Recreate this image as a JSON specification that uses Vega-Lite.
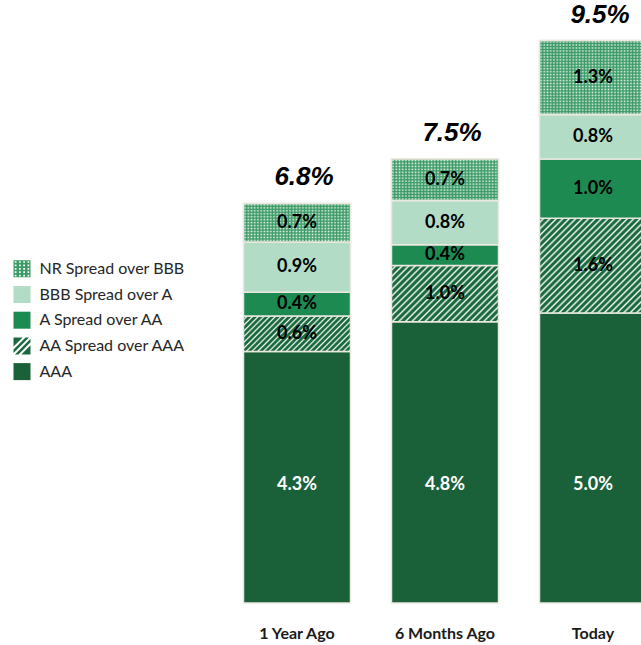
{
"$schema": "https://vega.github.io/schema/vega-lite/v6.json",
"width": 418, "height": 592,
"autosize": {"type": "none"},
"padding": {"left": 223, "top": 11, "right": 0, "bottom": 42},
"background": "white",
"config": {"view": {"stroke": null}, "font": "Lato"},
"datasets": {
 "segments": [
  {"category": "1 Year Ago", "segment": "AAA", "value": 4.25, "label": "4.3%"},
  {"category": "1 Year Ago", "segment": "AA Spread over AAA", "value": 0.6, "label": "0.6%"},
  {"category": "1 Year Ago", "segment": "A Spread over AA", "value": 0.4, "label": "0.4%"},
  {"category": "1 Year Ago", "segment": "BBB Spread over A", "value": 0.85, "label": "0.9%"},
  {"category": "1 Year Ago", "segment": "NR Spread over BBB", "value": 0.65, "label": "0.7%"},
  {"category": "6 Months Ago", "segment": "AAA", "value": 4.75, "label": "4.8%"},
  {"category": "6 Months Ago", "segment": "AA Spread over AAA", "value": 0.95, "label": "1.0%"},
  {"category": "6 Months Ago", "segment": "A Spread over AA", "value": 0.35, "label": "0.4%"},
  {"category": "6 Months Ago", "segment": "BBB Spread over A", "value": 0.75, "label": "0.8%"},
  {"category": "6 Months Ago", "segment": "NR Spread over BBB", "value": 0.7, "label": "0.7%"},
  {"category": "Today", "segment": "AAA", "value": 4.9, "label": "5.0%"},
  {"category": "Today", "segment": "AA Spread over AAA", "value": 1.6, "label": "1.6%"},
  {"category": "Today", "segment": "A Spread over AA", "value": 1.0, "label": "1.0%"},
  {"category": "Today", "segment": "BBB Spread over A", "value": 0.75, "label": "0.8%"},
  {"category": "Today", "segment": "NR Spread over BBB", "value": 1.25, "label": "1.3%"}
 ],
 "totals": [
  {"category": "1 Year Ago", "total": 6.75, "label": "6.8%"},
  {"category": "6 Months Ago", "total": 7.5, "label": "7.5%"},
  {"category": "Today", "total": 9.5, "label": "9.5%"}
 ]
},
"layer": [
 {
  "data": {"name": "segments"},
  "transform": [
   {"calculate": "indexof(['AAA','AA Spread over AAA','A Spread over AA','BBB Spread over A','NR Spread over BBB'], datum.segment)", "as": "ord"},
   {"stack": "value", "groupby": ["category"], "sort": [{"field": "ord", "order": "ascending"}], "as": ["v0", "v1"]}
  ],
  "mark": {"type": "bar", "stroke": "#ebe8df", "strokeWidth": 1.5},
  "encoding": {
   "x": {"field": "category", "type": "nominal", "sort": ["1 Year Ago", "6 Months Ago", "Today"],
         "scale": {"range": [0, 444], "paddingInner": 0.277, "paddingOuter": 0.1385},
         "axis": {"title": null, "domain": false, "ticks": false, "tickSize": 0, "grid": false, "labelAngle": 0,
                  "labelFont": "Lato", "labelFontWeight": "bold", "labelFontSize": 16, "labelColor": "#1a1a1a",
                  "labelPadding": 35, "labelBaseline": "alphabetic"}},
   "y": {"field": "v1", "type": "quantitative", "scale": {"domain": [0, 10], "nice": false, "zero": true}, "axis": null},
   "y2": {"field": "v0"},
   "fill": {
    "field": "segment", "type": "nominal",
    "scale": {
     "domain": ["AAA", "AA Spread over AAA", "A Spread over AA", "BBB Spread over A", "NR Spread over BBB"],
     "range": ["#1a6038", "#1b6a3f", "#1d8a52", "#b3dcc6", "#3b9a66"]
    },
    "legend": {"title": null, "orient": "none", "legendX": -209.5, "legendY": 249.3,
               "values": ["NR Spread over BBB", "BBB Spread over A", "A Spread over AA", "AA Spread over AAA", "AAA"],
               "symbolSize": 289, "symbolStrokeWidth": 0, "symbolOpacity": 1,
               "labelFont": "Lato", "labelFontSize": 16, "labelColor": "#262626", "labelOffset": 9,
               "rowPadding": 8.7, "labelLimit": 300},
    "condition": [
     {"test": "datum.segment === 'NR Spread over BBB'",
      "value": {"gradient": "linear", "x1": 0, "y1": 0, "x2": 1, "y2": 0, "stops": [
       {"offset": 0, "color": "#3b9a66"}, {"offset": 0.015, "color": "#e8f4ed"}, {"offset": 0.03, "color": "#3b9a66"}, {"offset": 0.045, "color": "#e8f4ed"}, {"offset": 0.06, "color": "#3b9a66"}, {"offset": 0.075, "color": "#e8f4ed"}, {"offset": 0.09, "color": "#3b9a66"}, {"offset": 0.105, "color": "#e8f4ed"}, {"offset": 0.12, "color": "#3b9a66"}, {"offset": 0.135, "color": "#e8f4ed"}, {"offset": 0.15, "color": "#3b9a66"}, {"offset": 0.165, "color": "#e8f4ed"}, {"offset": 0.18, "color": "#3b9a66"}, {"offset": 0.195, "color": "#e8f4ed"}, {"offset": 0.21, "color": "#3b9a66"}, {"offset": 0.225, "color": "#e8f4ed"}, {"offset": 0.24, "color": "#3b9a66"}, {"offset": 0.255, "color": "#e8f4ed"}, {"offset": 0.27, "color": "#3b9a66"}, {"offset": 0.285, "color": "#e8f4ed"}, {"offset": 0.3, "color": "#3b9a66"}, {"offset": 0.315, "color": "#e8f4ed"}, {"offset": 0.33, "color": "#3b9a66"}, {"offset": 0.345, "color": "#e8f4ed"}, {"offset": 0.36, "color": "#3b9a66"}, {"offset": 0.375, "color": "#e8f4ed"}, {"offset": 0.39, "color": "#3b9a66"}, {"offset": 0.405, "color": "#e8f4ed"}, {"offset": 0.42, "color": "#3b9a66"}, {"offset": 0.435, "color": "#e8f4ed"}, {"offset": 0.45, "color": "#3b9a66"}, {"offset": 0.465, "color": "#e8f4ed"}, {"offset": 0.48, "color": "#3b9a66"}, {"offset": 0.495, "color": "#e8f4ed"}, {"offset": 0.51, "color": "#3b9a66"}, {"offset": 0.525, "color": "#e8f4ed"}, {"offset": 0.54, "color": "#3b9a66"}, {"offset": 0.555, "color": "#e8f4ed"}, {"offset": 0.57, "color": "#3b9a66"}, {"offset": 0.585, "color": "#e8f4ed"}, {"offset": 0.6, "color": "#3b9a66"}, {"offset": 0.615, "color": "#e8f4ed"}, {"offset": 0.63, "color": "#3b9a66"}, {"offset": 0.645, "color": "#e8f4ed"}, {"offset": 0.66, "color": "#3b9a66"}, {"offset": 0.675, "color": "#e8f4ed"}, {"offset": 0.69, "color": "#3b9a66"}, {"offset": 0.705, "color": "#e8f4ed"}, {"offset": 0.72, "color": "#3b9a66"}, {"offset": 0.735, "color": "#e8f4ed"}, {"offset": 0.75, "color": "#3b9a66"}, {"offset": 0.765, "color": "#e8f4ed"}, {"offset": 0.78, "color": "#3b9a66"}, {"offset": 0.795, "color": "#e8f4ed"}, {"offset": 0.81, "color": "#3b9a66"}, {"offset": 0.825, "color": "#e8f4ed"}, {"offset": 0.84, "color": "#3b9a66"}, {"offset": 0.855, "color": "#e8f4ed"}, {"offset": 0.87, "color": "#3b9a66"}, {"offset": 0.885, "color": "#e8f4ed"}, {"offset": 0.9, "color": "#3b9a66"}, {"offset": 0.915, "color": "#e8f4ed"}, {"offset": 0.93, "color": "#3b9a66"}, {"offset": 0.945, "color": "#e8f4ed"}, {"offset": 0.96, "color": "#3b9a66"}, {"offset": 0.975, "color": "#e8f4ed"}, {"offset": 0.99, "color": "#3b9a66"}]}},
     {"test": "datum.segment === 'AA Spread over AAA' && datum.category === '1 Year Ago'",
      "value": {"gradient": "linear", "x1": 0, "y1": 0, "x2": 1.2, "y2": 0.398, "stops": [
       {"offset": 0, "color": "#1b6a3f"}, {"offset": 0.016, "color": "#1b6a3f"}, {"offset": 0.028, "color": "#f3f8f4"},
       {"offset": 0.04, "color": "#1b6a3f"}, {"offset": 0.056, "color": "#1b6a3f"}, {"offset": 0.068, "color": "#f3f8f4"},
       {"offset": 0.08, "color": "#1b6a3f"}, {"offset": 0.096, "color": "#1b6a3f"}, {"offset": 0.108, "color": "#f3f8f4"},
       {"offset": 0.12, "color": "#1b6a3f"}, {"offset": 0.136, "color": "#1b6a3f"}, {"offset": 0.148, "color": "#f3f8f4"},
       {"offset": 0.16, "color": "#1b6a3f"}, {"offset": 0.176, "color": "#1b6a3f"}, {"offset": 0.188, "color": "#f3f8f4"},
       {"offset": 0.2, "color": "#1b6a3f"}, {"offset": 0.216, "color": "#1b6a3f"}, {"offset": 0.228, "color": "#f3f8f4"},
       {"offset": 0.24, "color": "#1b6a3f"}, {"offset": 0.256, "color": "#1b6a3f"}, {"offset": 0.268, "color": "#f3f8f4"},
       {"offset": 0.28, "color": "#1b6a3f"}, {"offset": 0.296, "color": "#1b6a3f"}, {"offset": 0.308, "color": "#f3f8f4"},
       {"offset": 0.32, "color": "#1b6a3f"}, {"offset": 0.336, "color": "#1b6a3f"}, {"offset": 0.348, "color": "#f3f8f4"},
       {"offset": 0.36, "color": "#1b6a3f"}, {"offset": 0.376, "color": "#1b6a3f"}, {"offset": 0.388, "color": "#f3f8f4"},
       {"offset": 0.4, "color": "#1b6a3f"}, {"offset": 0.416, "color": "#1b6a3f"}, {"offset": 0.428, "color": "#f3f8f4"},
       {"offset": 0.44, "color": "#1b6a3f"}, {"offset": 0.456, "color": "#1b6a3f"}, {"offset": 0.468, "color": "#f3f8f4"},
       {"offset": 0.48, "color": "#1b6a3f"}, {"offset": 0.496, "color": "#1b6a3f"}, {"offset": 0.508, "color": "#f3f8f4"},
       {"offset": 0.52, "color": "#1b6a3f"}, {"offset": 0.536, "color": "#1b6a3f"}, {"offset": 0.548, "color": "#f3f8f4"},
       {"offset": 0.56, "color": "#1b6a3f"}, {"offset": 0.576, "color": "#1b6a3f"}, {"offset": 0.588, "color": "#f3f8f4"},
       {"offset": 0.6, "color": "#1b6a3f"}, {"offset": 0.616, "color": "#1b6a3f"}, {"offset": 0.628, "color": "#f3f8f4"},
       {"offset": 0.64, "color": "#1b6a3f"}, {"offset": 0.656, "color": "#1b6a3f"}, {"offset": 0.668, "color": "#f3f8f4"},
       {"offset": 0.68, "color": "#1b6a3f"}, {"offset": 0.696, "color": "#1b6a3f"}, {"offset": 0.708, "color": "#f3f8f4"},
       {"offset": 0.72, "color": "#1b6a3f"}, {"offset": 0.736, "color": "#1b6a3f"}, {"offset": 0.748, "color": "#f3f8f4"},
       {"offset": 0.76, "color": "#1b6a3f"}, {"offset": 0.776, "color": "#1b6a3f"}, {"offset": 0.788, "color": "#f3f8f4"},
       {"offset": 0.8, "color": "#1b6a3f"}, {"offset": 0.816, "color": "#1b6a3f"}, {"offset": 0.828, "color": "#f3f8f4"},
       {"offset": 0.84, "color": "#1b6a3f"}, {"offset": 0.856, "color": "#1b6a3f"}, {"offset": 0.868, "color": "#f3f8f4"},
       {"offset": 0.88, "color": "#1b6a3f"}, {"offset": 0.896, "color": "#1b6a3f"}, {"offset": 0.908, "color": "#f3f8f4"},
       {"offset": 0.92, "color": "#1b6a3f"}, {"offset": 0.936, "color": "#1b6a3f"}, {"offset": 0.948, "color": "#f3f8f4"},
       {"offset": 0.96, "color": "#1b6a3f"}, {"offset": 0.976, "color": "#1b6a3f"}, {"offset": 0.988, "color": "#f3f8f4"},
       {"offset": 1, "color": "#1b6a3f"}]}},
     {"test": "datum.segment === 'AA Spread over AAA' && datum.category === '6 Months Ago'",
      "value": {"gradient": "linear", "x1": 0, "y1": 0, "x2": 1.195, "y2": 0.628, "stops": [
       {"offset": 0, "color": "#1b6a3f"}, {"offset": 0.016, "color": "#1b6a3f"}, {"offset": 0.028, "color": "#f3f8f4"},
       {"offset": 0.04, "color": "#1b6a3f"}, {"offset": 0.056, "color": "#1b6a3f"}, {"offset": 0.068, "color": "#f3f8f4"},
       {"offset": 0.08, "color": "#1b6a3f"}, {"offset": 0.096, "color": "#1b6a3f"}, {"offset": 0.108, "color": "#f3f8f4"},
       {"offset": 0.12, "color": "#1b6a3f"}, {"offset": 0.136, "color": "#1b6a3f"}, {"offset": 0.148, "color": "#f3f8f4"},
       {"offset": 0.16, "color": "#1b6a3f"}, {"offset": 0.176, "color": "#1b6a3f"}, {"offset": 0.188, "color": "#f3f8f4"},
       {"offset": 0.2, "color": "#1b6a3f"}, {"offset": 0.216, "color": "#1b6a3f"}, {"offset": 0.228, "color": "#f3f8f4"},
       {"offset": 0.24, "color": "#1b6a3f"}, {"offset": 0.256, "color": "#1b6a3f"}, {"offset": 0.268, "color": "#f3f8f4"},
       {"offset": 0.28, "color": "#1b6a3f"}, {"offset": 0.296, "color": "#1b6a3f"}, {"offset": 0.308, "color": "#f3f8f4"},
       {"offset": 0.32, "color": "#1b6a3f"}, {"offset": 0.336, "color": "#1b6a3f"}, {"offset": 0.348, "color": "#f3f8f4"},
       {"offset": 0.36, "color": "#1b6a3f"}, {"offset": 0.376, "color": "#1b6a3f"}, {"offset": 0.388, "color": "#f3f8f4"},
       {"offset": 0.4, "color": "#1b6a3f"}, {"offset": 0.416, "color": "#1b6a3f"}, {"offset": 0.428, "color": "#f3f8f4"},
       {"offset": 0.44, "color": "#1b6a3f"}, {"offset": 0.456, "color": "#1b6a3f"}, {"offset": 0.468, "color": "#f3f8f4"},
       {"offset": 0.48, "color": "#1b6a3f"}, {"offset": 0.496, "color": "#1b6a3f"}, {"offset": 0.508, "color": "#f3f8f4"},
       {"offset": 0.52, "color": "#1b6a3f"}, {"offset": 0.536, "color": "#1b6a3f"}, {"offset": 0.548, "color": "#f3f8f4"},
       {"offset": 0.56, "color": "#1b6a3f"}, {"offset": 0.576, "color": "#1b6a3f"}, {"offset": 0.588, "color": "#f3f8f4"},
       {"offset": 0.6, "color": "#1b6a3f"}, {"offset": 0.616, "color": "#1b6a3f"}, {"offset": 0.628, "color": "#f3f8f4"},
       {"offset": 0.64, "color": "#1b6a3f"}, {"offset": 0.656, "color": "#1b6a3f"}, {"offset": 0.668, "color": "#f3f8f4"},
       {"offset": 0.68, "color": "#1b6a3f"}, {"offset": 0.696, "color": "#1b6a3f"}, {"offset": 0.708, "color": "#f3f8f4"},
       {"offset": 0.72, "color": "#1b6a3f"}, {"offset": 0.736, "color": "#1b6a3f"}, {"offset": 0.748, "color": "#f3f8f4"},
       {"offset": 0.76, "color": "#1b6a3f"}, {"offset": 0.776, "color": "#1b6a3f"}, {"offset": 0.788, "color": "#f3f8f4"},
       {"offset": 0.8, "color": "#1b6a3f"}, {"offset": 0.816, "color": "#1b6a3f"}, {"offset": 0.828, "color": "#f3f8f4"},
       {"offset": 0.84, "color": "#1b6a3f"}, {"offset": 0.856, "color": "#1b6a3f"}, {"offset": 0.868, "color": "#f3f8f4"},
       {"offset": 0.88, "color": "#1b6a3f"}, {"offset": 0.896, "color": "#1b6a3f"}, {"offset": 0.908, "color": "#f3f8f4"},
       {"offset": 0.92, "color": "#1b6a3f"}, {"offset": 0.936, "color": "#1b6a3f"}, {"offset": 0.948, "color": "#f3f8f4"},
       {"offset": 0.96, "color": "#1b6a3f"}, {"offset": 0.976, "color": "#1b6a3f"}, {"offset": 0.988, "color": "#f3f8f4"},
       {"offset": 1, "color": "#1b6a3f"}]}},
     {"test": "datum.segment === 'AA Spread over AAA' && datum.category === 'Today'",
      "value": {"gradient": "linear", "x1": 0, "y1": 0, "x2": 1.057, "y2": 0.936, "stops": [
       {"offset": 0, "color": "#1b6a3f"}, {"offset": 0.012, "color": "#1b6a3f"}, {"offset": 0.022, "color": "#f3f8f4"},
       {"offset": 0.032, "color": "#1b6a3f"}, {"offset": 0.044, "color": "#1b6a3f"}, {"offset": 0.054, "color": "#f3f8f4"},
       {"offset": 0.064, "color": "#1b6a3f"}, {"offset": 0.076, "color": "#1b6a3f"}, {"offset": 0.086, "color": "#f3f8f4"},
       {"offset": 0.096, "color": "#1b6a3f"}, {"offset": 0.108, "color": "#1b6a3f"}, {"offset": 0.118, "color": "#f3f8f4"},
       {"offset": 0.128, "color": "#1b6a3f"}, {"offset": 0.14, "color": "#1b6a3f"}, {"offset": 0.15, "color": "#f3f8f4"},
       {"offset": 0.16, "color": "#1b6a3f"}, {"offset": 0.172, "color": "#1b6a3f"}, {"offset": 0.182, "color": "#f3f8f4"},
       {"offset": 0.192, "color": "#1b6a3f"}, {"offset": 0.204, "color": "#1b6a3f"}, {"offset": 0.214, "color": "#f3f8f4"},
       {"offset": 0.224, "color": "#1b6a3f"}, {"offset": 0.236, "color": "#1b6a3f"}, {"offset": 0.246, "color": "#f3f8f4"},
       {"offset": 0.256, "color": "#1b6a3f"}, {"offset": 0.268, "color": "#1b6a3f"}, {"offset": 0.278, "color": "#f3f8f4"},
       {"offset": 0.288, "color": "#1b6a3f"}, {"offset": 0.3, "color": "#1b6a3f"}, {"offset": 0.31, "color": "#f3f8f4"},
       {"offset": 0.32, "color": "#1b6a3f"}, {"offset": 0.332, "color": "#1b6a3f"}, {"offset": 0.342, "color": "#f3f8f4"},
       {"offset": 0.352, "color": "#1b6a3f"}, {"offset": 0.364, "color": "#1b6a3f"}, {"offset": 0.374, "color": "#f3f8f4"},
       {"offset": 0.384, "color": "#1b6a3f"}, {"offset": 0.396, "color": "#1b6a3f"}, {"offset": 0.406, "color": "#f3f8f4"},
       {"offset": 0.416, "color": "#1b6a3f"}, {"offset": 0.428, "color": "#1b6a3f"}, {"offset": 0.438, "color": "#f3f8f4"},
       {"offset": 0.448, "color": "#1b6a3f"}, {"offset": 0.46, "color": "#1b6a3f"}, {"offset": 0.47, "color": "#f3f8f4"},
       {"offset": 0.48, "color": "#1b6a3f"}, {"offset": 0.492, "color": "#1b6a3f"}, {"offset": 0.502, "color": "#f3f8f4"},
       {"offset": 0.512, "color": "#1b6a3f"}, {"offset": 0.524, "color": "#1b6a3f"}, {"offset": 0.534, "color": "#f3f8f4"},
       {"offset": 0.544, "color": "#1b6a3f"}, {"offset": 0.556, "color": "#1b6a3f"}, {"offset": 0.566, "color": "#f3f8f4"},
       {"offset": 0.576, "color": "#1b6a3f"}, {"offset": 0.588, "color": "#1b6a3f"}, {"offset": 0.598, "color": "#f3f8f4"},
       {"offset": 0.608, "color": "#1b6a3f"}, {"offset": 0.62, "color": "#1b6a3f"}, {"offset": 0.63, "color": "#f3f8f4"},
       {"offset": 0.64, "color": "#1b6a3f"}, {"offset": 0.652, "color": "#1b6a3f"}, {"offset": 0.662, "color": "#f3f8f4"},
       {"offset": 0.672, "color": "#1b6a3f"}, {"offset": 0.684, "color": "#1b6a3f"}, {"offset": 0.694, "color": "#f3f8f4"},
       {"offset": 0.704, "color": "#1b6a3f"}, {"offset": 0.716, "color": "#1b6a3f"}, {"offset": 0.726, "color": "#f3f8f4"},
       {"offset": 0.736, "color": "#1b6a3f"}, {"offset": 0.748, "color": "#1b6a3f"}, {"offset": 0.758, "color": "#f3f8f4"},
       {"offset": 0.768, "color": "#1b6a3f"}, {"offset": 0.78, "color": "#1b6a3f"}, {"offset": 0.79, "color": "#f3f8f4"},
       {"offset": 0.8, "color": "#1b6a3f"}, {"offset": 0.812, "color": "#1b6a3f"}, {"offset": 0.822, "color": "#f3f8f4"},
       {"offset": 0.832, "color": "#1b6a3f"}, {"offset": 0.844, "color": "#1b6a3f"}, {"offset": 0.854, "color": "#f3f8f4"},
       {"offset": 0.864, "color": "#1b6a3f"}, {"offset": 0.876, "color": "#1b6a3f"}, {"offset": 0.886, "color": "#f3f8f4"},
       {"offset": 0.896, "color": "#1b6a3f"}, {"offset": 0.908, "color": "#1b6a3f"}, {"offset": 0.918, "color": "#f3f8f4"},
       {"offset": 0.928, "color": "#1b6a3f"}, {"offset": 0.94, "color": "#1b6a3f"}, {"offset": 0.95, "color": "#f3f8f4"},
       {"offset": 0.96, "color": "#1b6a3f"}, {"offset": 0.972, "color": "#1b6a3f"}, {"offset": 0.982, "color": "#f3f8f4"},
       {"offset": 0.992, "color": "#1b6a3f"}]}}
    ]
   }
  }
 },
 {
  "data": {"name": "segments"},
  "transform": [
   {"calculate": "indexof(['AAA','AA Spread over AAA','A Spread over AA','BBB Spread over A','NR Spread over BBB'], datum.segment)", "as": "ord"},
   {"stack": "value", "groupby": ["category"], "sort": [{"field": "ord", "order": "ascending"}], "as": ["v0", "v1"]},
   {"filter": "datum.segment === 'NR Spread over BBB'"}
  ],
  "mark": {"type": "bar", "stroke": "#ebe8df", "strokeWidth": 1.5},
  "encoding": {
   "x": {"field": "category", "type": "nominal", "sort": ["1 Year Ago", "6 Months Ago", "Today"]},
   "y": {"field": "v1", "type": "quantitative"},
   "y2": {"field": "v0"},
   "fill": {"condition": [
     {"test": "datum.category === '1 Year Ago'",
      "value": {"gradient": "linear", "x1": 0, "y1": 0, "x2": 0, "y2": 1, "stops": [
       {"offset": 0, "color": "#3b9a66"}, {"offset": 0.038, "color": "rgba(59,154,102,0)"}, {"offset": 0.077, "color": "#3b9a66"}, {"offset": 0.115, "color": "rgba(59,154,102,0)"}, {"offset": 0.154, "color": "#3b9a66"}, {"offset": 0.192, "color": "rgba(59,154,102,0)"}, {"offset": 0.231, "color": "#3b9a66"}, {"offset": 0.269, "color": "rgba(59,154,102,0)"}, {"offset": 0.308, "color": "#3b9a66"}, {"offset": 0.346, "color": "rgba(59,154,102,0)"}, {"offset": 0.385, "color": "#3b9a66"}, {"offset": 0.423, "color": "rgba(59,154,102,0)"}, {"offset": 0.462, "color": "#3b9a66"}, {"offset": 0.5, "color": "rgba(59,154,102,0)"}, {"offset": 0.538, "color": "#3b9a66"}, {"offset": 0.577, "color": "rgba(59,154,102,0)"}, {"offset": 0.615, "color": "#3b9a66"}, {"offset": 0.654, "color": "rgba(59,154,102,0)"}, {"offset": 0.692, "color": "#3b9a66"}, {"offset": 0.731, "color": "rgba(59,154,102,0)"}, {"offset": 0.769, "color": "#3b9a66"}, {"offset": 0.808, "color": "rgba(59,154,102,0)"}, {"offset": 0.846, "color": "#3b9a66"}, {"offset": 0.885, "color": "rgba(59,154,102,0)"}, {"offset": 0.923, "color": "#3b9a66"}, {"offset": 0.962, "color": "rgba(59,154,102,0)"}, {"offset": 1, "color": "#3b9a66"}]}},
     {"test": "datum.category === '6 Months Ago'",
      "value": {"gradient": "linear", "x1": 0, "y1": 0, "x2": 0, "y2": 1, "stops": [
       {"offset": 0, "color": "#3b9a66"}, {"offset": 0.036, "color": "rgba(59,154,102,0)"}, {"offset": 0.071, "color": "#3b9a66"}, {"offset": 0.107, "color": "rgba(59,154,102,0)"}, {"offset": 0.143, "color": "#3b9a66"}, {"offset": 0.179, "color": "rgba(59,154,102,0)"}, {"offset": 0.214, "color": "#3b9a66"}, {"offset": 0.25, "color": "rgba(59,154,102,0)"}, {"offset": 0.286, "color": "#3b9a66"}, {"offset": 0.321, "color": "rgba(59,154,102,0)"}, {"offset": 0.357, "color": "#3b9a66"}, {"offset": 0.393, "color": "rgba(59,154,102,0)"}, {"offset": 0.429, "color": "#3b9a66"}, {"offset": 0.464, "color": "rgba(59,154,102,0)"}, {"offset": 0.5, "color": "#3b9a66"}, {"offset": 0.536, "color": "rgba(59,154,102,0)"}, {"offset": 0.571, "color": "#3b9a66"}, {"offset": 0.607, "color": "rgba(59,154,102,0)"}, {"offset": 0.643, "color": "#3b9a66"}, {"offset": 0.679, "color": "rgba(59,154,102,0)"}, {"offset": 0.714, "color": "#3b9a66"}, {"offset": 0.75, "color": "rgba(59,154,102,0)"}, {"offset": 0.786, "color": "#3b9a66"}, {"offset": 0.821, "color": "rgba(59,154,102,0)"}, {"offset": 0.857, "color": "#3b9a66"}, {"offset": 0.893, "color": "rgba(59,154,102,0)"}, {"offset": 0.929, "color": "#3b9a66"}, {"offset": 0.964, "color": "rgba(59,154,102,0)"}, {"offset": 1, "color": "#3b9a66"}]}},
     {"test": "datum.category === 'Today'",
      "value": {"gradient": "linear", "x1": 0, "y1": 0, "x2": 0, "y2": 1, "stops": [
       {"offset": 0, "color": "#3b9a66"}, {"offset": 0.02, "color": "rgba(59,154,102,0)"}, {"offset": 0.04, "color": "#3b9a66"}, {"offset": 0.06, "color": "rgba(59,154,102,0)"}, {"offset": 0.08, "color": "#3b9a66"}, {"offset": 0.1, "color": "rgba(59,154,102,0)"}, {"offset": 0.12, "color": "#3b9a66"}, {"offset": 0.14, "color": "rgba(59,154,102,0)"}, {"offset": 0.16, "color": "#3b9a66"}, {"offset": 0.18, "color": "rgba(59,154,102,0)"}, {"offset": 0.2, "color": "#3b9a66"}, {"offset": 0.22, "color": "rgba(59,154,102,0)"}, {"offset": 0.24, "color": "#3b9a66"}, {"offset": 0.26, "color": "rgba(59,154,102,0)"}, {"offset": 0.28, "color": "#3b9a66"}, {"offset": 0.3, "color": "rgba(59,154,102,0)"}, {"offset": 0.32, "color": "#3b9a66"}, {"offset": 0.34, "color": "rgba(59,154,102,0)"}, {"offset": 0.36, "color": "#3b9a66"}, {"offset": 0.38, "color": "rgba(59,154,102,0)"}, {"offset": 0.4, "color": "#3b9a66"}, {"offset": 0.42, "color": "rgba(59,154,102,0)"}, {"offset": 0.44, "color": "#3b9a66"}, {"offset": 0.46, "color": "rgba(59,154,102,0)"}, {"offset": 0.48, "color": "#3b9a66"}, {"offset": 0.5, "color": "rgba(59,154,102,0)"}, {"offset": 0.52, "color": "#3b9a66"}, {"offset": 0.54, "color": "rgba(59,154,102,0)"}, {"offset": 0.56, "color": "#3b9a66"}, {"offset": 0.58, "color": "rgba(59,154,102,0)"}, {"offset": 0.6, "color": "#3b9a66"}, {"offset": 0.62, "color": "rgba(59,154,102,0)"}, {"offset": 0.64, "color": "#3b9a66"}, {"offset": 0.66, "color": "rgba(59,154,102,0)"}, {"offset": 0.68, "color": "#3b9a66"}, {"offset": 0.7, "color": "rgba(59,154,102,0)"}, {"offset": 0.72, "color": "#3b9a66"}, {"offset": 0.74, "color": "rgba(59,154,102,0)"}, {"offset": 0.76, "color": "#3b9a66"}, {"offset": 0.78, "color": "rgba(59,154,102,0)"}, {"offset": 0.8, "color": "#3b9a66"}, {"offset": 0.82, "color": "rgba(59,154,102,0)"}, {"offset": 0.84, "color": "#3b9a66"}, {"offset": 0.86, "color": "rgba(59,154,102,0)"}, {"offset": 0.88, "color": "#3b9a66"}, {"offset": 0.9, "color": "rgba(59,154,102,0)"}, {"offset": 0.92, "color": "#3b9a66"}, {"offset": 0.94, "color": "rgba(59,154,102,0)"}, {"offset": 0.96, "color": "#3b9a66"}, {"offset": 0.98, "color": "rgba(59,154,102,0)"}, {"offset": 1, "color": "#3b9a66"}]}}
    ], "value": "transparent"}
  }
 },
 {
  "data": {"name": "segments"},
  "transform": [
   {"calculate": "indexof(['AAA','AA Spread over AAA','A Spread over AA','BBB Spread over A','NR Spread over BBB'], datum.segment)", "as": "ord"},
   {"stack": "value", "groupby": ["category"], "sort": [{"field": "ord", "order": "ascending"}], "as": ["v0", "v1"]},
   {"calculate": "datum.segment === 'AAA' ? 2 : (datum.v0 + datum.v1) / 2", "as": "mid"}
  ],
  "mark": {"type": "text", "font": "Lato", "fontWeight": "bold", "fontSize": 18, "baseline": "middle", "align": "center"},
  "encoding": {
   "x": {"field": "category", "type": "nominal", "sort": ["1 Year Ago", "6 Months Ago", "Today"]},
   "y": {"field": "mid", "type": "quantitative"},
   "text": {"field": "label"},
   "color": {"condition": {"test": "datum.segment === 'AAA'", "value": "#ffffff"}, "value": "#000000"}
  }
 },
 {
  "data": {"name": "totals"},
  "mark": {"type": "text", "font": "Liberation Sans", "fontWeight": "bold", "fontStyle": "italic", "fontSize": 26, "baseline": "alphabetic", "align": "center", "dx": 7, "dy": -18, "color": "#000000"},
  "encoding": {
   "x": {"field": "category", "type": "nominal", "sort": ["1 Year Ago", "6 Months Ago", "Today"]},
   "y": {"field": "total", "type": "quantitative"},
   "text": {"field": "label"}
  }
 },
 {
  "data": {"name": "segments"},
  "transform": [{"filter": "false"}],
  "mark": {"type": "point", "filled": true, "opacity": 1},
  "encoding": {
   "fill": {
    "field": "segment", "type": "nominal",
    "scale": {
     "domain": ["AAA", "AA Spread over AAA", "A Spread over AA", "BBB Spread over A", "NR Spread over BBB"],
     "range": ["#1a6038", "#1b6a3f", "#1d8a52", "#b3dcc6", "#3b9a66"]
    },
    "legend": {"title": null, "orient": "none", "legendX": -209.5, "legendY": 249.3,
               "values": ["NR Spread over BBB", "BBB Spread over A", "A Spread over AA", "AA Spread over AAA", "AAA"],
               "symbolSize": 289, "symbolStrokeWidth": 0, "symbolOpacity": 1,
               "labelFont": "Lato", "labelFontSize": 16, "labelColor": "#262626", "labelOffset": 9,
               "rowPadding": 8.7, "labelLimit": 300}
   },
   "shape": {
    "field": "segment", "type": "nominal",
    "scale": {
     "domain": ["AAA", "AA Spread over AAA", "A Spread over AA", "BBB Spread over A", "NR Spread over BBB"],
     "range": ["square",
       "M-1,-1L-1,0.08L0.08,-1Z M-1,0.42L-1,0.83L0.83,-1L0.42,-1Z M1,-0.83L1,-0.42L-0.42,1L-0.83,1Z M1,-0.08L1,1L-0.08,1Z",
       "square", "square",
       "M-1,-1H1V1H-1Z M-0.85,-0.9v0.2h0.2v-0.2Z M-0.35,-0.9v0.2h0.2v-0.2Z M0.15,-0.9v0.2h0.2v-0.2Z M0.65,-0.9v0.2h0.2v-0.2Z M-0.85,-0.5v0.2h0.2v-0.2Z M-0.35,-0.5v0.2h0.2v-0.2Z M0.15,-0.5v0.2h0.2v-0.2Z M0.65,-0.5v0.2h0.2v-0.2Z M-0.85,-0.1v0.2h0.2v-0.2Z M-0.35,-0.1v0.2h0.2v-0.2Z M0.15,-0.1v0.2h0.2v-0.2Z M0.65,-0.1v0.2h0.2v-0.2Z M-0.85,0.3v0.2h0.2v-0.2Z M-0.35,0.3v0.2h0.2v-0.2Z M0.15,0.3v0.2h0.2v-0.2Z M0.65,0.3v0.2h0.2v-0.2Z M-0.85,0.7v0.2h0.2v-0.2Z M-0.35,0.7v0.2h0.2v-0.2Z M0.15,0.7v0.2h0.2v-0.2Z M0.65,0.7v0.2h0.2v-0.2Z"]
    },
    "legend": {"title": null, "orient": "none", "legendX": -209.5, "legendY": 249.3,
               "values": ["NR Spread over BBB", "BBB Spread over A", "A Spread over AA", "AA Spread over AAA", "AAA"],
               "symbolSize": 289, "symbolStrokeWidth": 0, "symbolOpacity": 1,
               "labelFont": "Lato", "labelFontSize": 16, "labelColor": "#262626", "labelOffset": 9,
               "rowPadding": 8.7, "labelLimit": 300}
   }
  }
 }
]
}
